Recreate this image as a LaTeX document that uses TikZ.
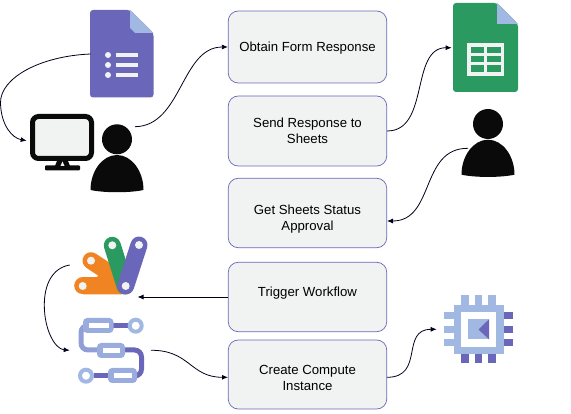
\documentclass[tikz,border=0pt]{standalone}
\usepackage{fontspec}
\setmainfont{Liberation Sans}
\usetikzlibrary{arrows.meta}

\definecolor{formblue}{HTML}{6A66B9}
\definecolor{foldblue}{HTML}{A1B8E3}
\definecolor{sheetgreen}{HTML}{2A9A60}
\definecolor{gasorange}{HTML}{F08423}
\definecolor{boxgrey}{HTML}{F1F3F3}
\definecolor{inkblack}{HTML}{0A0A0A}

\tikzset{
  stepbox/.style={draw=formblue,fill=boxgrey,rounded corners=10pt,line width=0.7pt,
    minimum width=158.5pt,inner sep=0pt},
  steptext/.style={align=center,font=\fontsize{13.2}{16}\selectfont,inner sep=0pt},
  link/.style={-{Latex[length=6pt,width=5pt]},line width=0.8pt,draw=black!90!blue},
  hole/.style={circle,fill=boxgrey,minimum size=8pt,inner sep=0pt},
}

% person icon, head centre at (0,0)
\newcommand{\person}[1]{
  \fill [inkblack] (#1) circle (15);
  \fill [inkblack] ([shift={(-26.5,50.7)}]#1) .. controls +(0,-19) and +(-14.5,0) .. ([shift={(0,15.7)}]#1)
    .. controls +(14.5,0) and +(0,-19) .. ([shift={(26.5,50.7)}]#1)
    .. controls +(-14,3) and +(14,3) .. cycle;
}

% capsule of the workflow icon
\newcommand{\capsule}[4]{
  \fill [foldblue!85!formblue,rounded corners=4pt] (#1,#2) rectangle (#3,#4);
  \fill [white] (#1+6,#2+5) rectangle (#3-5,#4-5);
}

\begin{document}
\begin{tikzpicture}[x=1pt,y=-1pt]
  \useasboundingbox (0,0) rectangle (571,414);

  % steps
  \node [stepbox,minimum height=72pt] (obtain) at (307.5,47) {};
  \node [stepbox,minimum height=70pt] (send) at (307.5,131) {};
  \node [stepbox,minimum height=69.4pt] (status) at (307.5,213) {};
  \node [stepbox,minimum height=69.4pt] (trigger) at (307.5,297) {};
  \node [stepbox,minimum height=69pt] (create) at (307.5,374.5) {};
  \node [steptext] (obtaintext) at (307.5,48.5) {Obtain Form Response};
  \node [steptext] (sendtext) at (307.5,131) {Send Response to\\Sheets};
  \node [steptext] (statustext) at (307.5,219) {Get Sheets Status\\Approval};
  \node [steptext] (triggertext) at (307.5,293.5) {Trigger Workflow};
  \node [steptext] (createtext) at (307.5,378) {Create Compute\\Instance};

  % form
  \fill [formblue,rounded corners=3pt] (90,10) -- (130,10) -- (153.5,33) -- (153.5,97.5) -- (90,97.5) -- cycle;
  \fill [foldblue] (130,10) -- (153.5,33) -- (135,33) -- (130,28) -- cycle;
  \foreach \y in {55,65,75} {
    \fill [boxgrey] (108,\y) circle (3);
    \fill [boxgrey] (116,\y-2) rectangle (137.5,\y+2);
  }

  % monitor
  \draw [inkblack,fill=boxgrey,line width=5pt,rounded corners=6pt] (32.5,116.5) rectangle (91.5,158.5);
  \fill [inkblack] (57,161) -- (68,161) -- (70,166) -- (55,166) -- cycle;
  \fill [inkblack,rounded corners=1pt] (45,165.5) rectangle (80,170.5);
  \fill [boxgrey] (62.5,161.5) -- (64.5,166) -- (60.5,166) -- cycle;

  \person{117,139.3}
  \person{488,124}

  % sheet
  \fill [sheetgreen,rounded corners=3pt] (453,3) -- (497,3) -- (518,24) -- (518,92) -- (453,92) -- cycle;
  \fill [foldblue] (497,3) -- (518,24) -- (497,24) -- cycle;
  \fill [boxgrey] (467,43.5) rectangle (504,76);
  \foreach \y/\h in {47/6,56.5/6,65.5/6.5} {
    \fill [sheetgreen] (470.5,\y) rectangle +(13.5,\h);
    \fill [sheetgreen] (487,\y) rectangle +(13.5,\h);
  }

  % apps script
  \fill [gasorange] (97,277) -- (110,263) -- (122,294.5) -- (83,294.5) -- cycle;
  \draw [gasorange,line width=17pt,line cap=round] (82.7,286) -- (100,286);
  \draw [gasorange,line width=17pt,line cap=round] (91,260.7) -- (112,274.5);
  \draw [sheetgreen,line width=17pt,line cap=round] (112.3,245.3) -- (125,286);
  \draw [formblue,line width=17pt,line cap=round] (139,245) -- (125.7,286);
  \foreach \x/\y in {82.7/286,91/260.7,112.3/245.3,139/245,125.7/286}
    \node [hole] at (\x,\y) {};

  % workflows
  \draw [foldblue!70!formblue,line width=5pt,rounded corners=7pt] (88,325.5) -- (81,325.5) -- (81,350) -- (100,350);
  \draw [formblue,line width=5pt] (113,325.5) -- (128,325.5);
  \draw [formblue,line width=5pt,rounded corners=7pt] (122,350) -- (141.5,350) -- (141.5,376) -- (134,376);
  \draw [formblue,line width=5pt] (94,376) -- (110,376);
  \capsule{83}{318}{113.5}{333}
  \capsule{97}{343}{125}{358}
  \capsule{108}{368}{137}{383}
  \draw [foldblue,fill=white,line width=4pt] (135.7,325.7) circle (6);
  \draw [foldblue,fill=white,line width=4pt] (86,375.7) circle (6);

  % compute engine
  \foreach \x in {461.3,474.7,488.3} {
    \fill [foldblue] (\x,295) rectangle +(7.4,10);
    \fill [formblue] (\x,354) rectangle +(7.4,9);
  }
  \foreach \y in {312.3,326,339.3} {
    \fill [foldblue] (444,\y) rectangle +(10,6.8);
    \fill [formblue] (504,\y) rectangle +(9,6.8);
  }
  \fill [foldblue] (454,305) rectangle (504,354);
  \fill [white] (461.3,312) rectangle (496,346.7);
  \fill [foldblue] (468.3,319.3) rectangle (489,339.3);
  \fill [formblue] (489,319.3) -- (489,339.3) -- (478.5,329.5) -- cycle;

  % free ends of the links
  \coordinate (formout) at (90.7,54);
  \coordinate (formbend) at (0.5,103);
  \coordinate (monitorin) at (26.7,140.7);
  \coordinate (userout) at (135,126.7);
  \coordinate (sheetin) at (451.7,47.7);
  \coordinate (approverout) at (468,148.3);
  \coordinate (statusin) at (387,221);
  \coordinate (scriptin) at (137.5,297);
  \coordinate (scriptout) at (69.7,265);
  \coordinate (scriptbend) at (44.3,305);
  \coordinate (flowin) at (69.7,350.3);
  \coordinate (flowout) at (151,350.3);
  \coordinate (createin) at (228,377.3);
  \coordinate (createout) at (387,377.3);
  \coordinate (chipin) at (436.7,329.3);

  \draw [link] (formout) .. controls (40,56) and (0,78) .. (formbend) .. controls (1,125) and (12,138) .. (monitorin);
  \draw [link] (userout) .. controls (182,126) and (181,47) .. (obtain.west);
  \draw [link] (send.east) .. controls (430,131) and (410,47.7) .. (sheetin);
  \draw [link] (approverout) .. controls (420,148) and (435,221) .. (statusin);
  \draw [link] (trigger.west) -- (scriptin);
  \draw [link] (scriptout) .. controls (52,268) and (44.3,285) .. (scriptbend) .. controls (44.3,330) and (55,349) .. (flowin);
  \draw [link] (flowout) .. controls (190,350) and (190,377.3) .. (createin);
  \draw [link] (createout) .. controls (425,377.3) and (400,329.3) .. (chipin);
\end{tikzpicture}
\end{document}
